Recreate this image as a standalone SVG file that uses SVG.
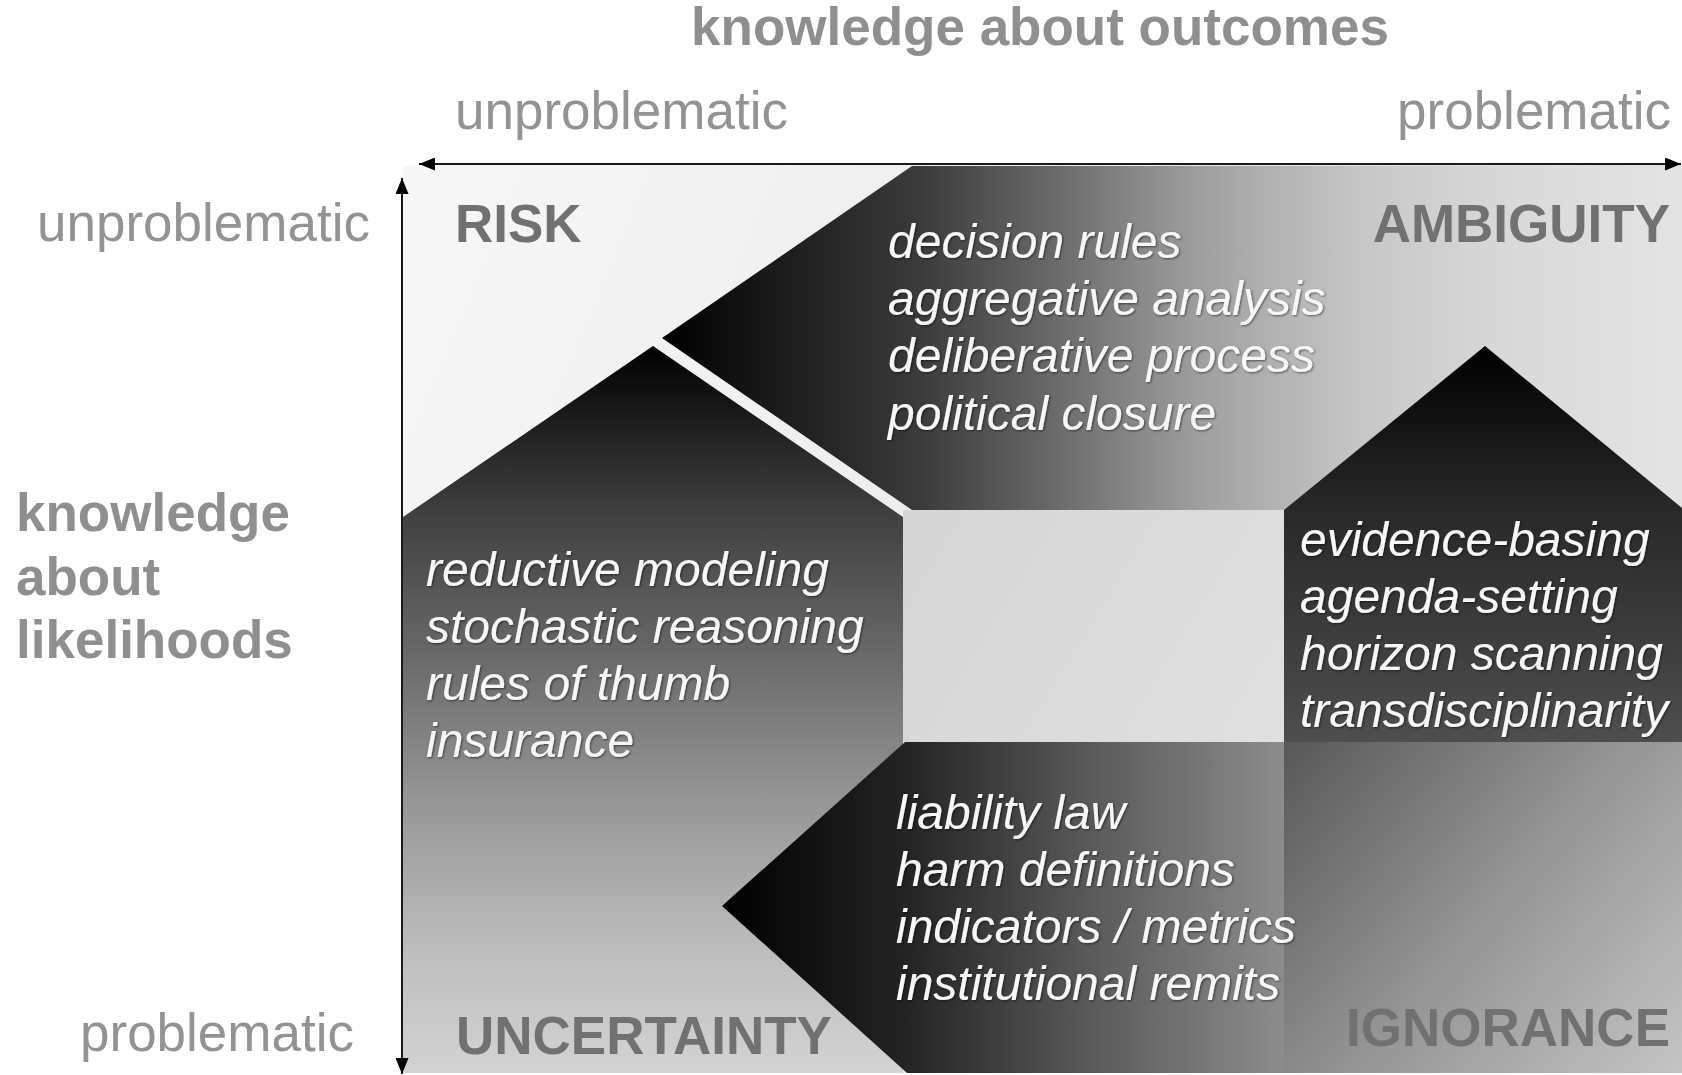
<svg xmlns="http://www.w3.org/2000/svg" width="1682" height="1075" viewBox="0 0 1682 1075">
  <defs>
    <style>
      .axis { font-family: "Liberation Sans", Arial, sans-serif; font-size: 53px; fill: #939393; }
      .axisb { font-family: "Liberation Sans", Arial, sans-serif; font-size: 53px; font-weight: bold; fill: #8f8f8f; }
      .quad { font-family: "Liberation Sans", Arial, sans-serif; font-size: 53px; font-weight: bold; fill: #717171; }
      .item { font-family: "Liberation Sans", Arial, sans-serif; font-size: 48px; font-style: italic; fill: #f7f7f7; filter: url(#shadow); }
      .axisline { stroke: #1a1a1a; stroke-width: 2; fill: none; }
    </style>
    <filter id="shadow" x="-5%" y="-20%" width="110%" height="140%">
      <feDropShadow dx="1" dy="1" stdDeviation="0.8" flood-color="#000" flood-opacity="0.55"/>
    </filter>
    <marker id="ah" viewBox="0 0 16 13" markerUnits="userSpaceOnUse" markerWidth="16" markerHeight="13" refX="16" refY="6.5" orient="auto-start-reverse">
      <path d="M0,0 L16,6.5 L0,13 z" fill="#000"/>
    </marker>
    <linearGradient id="gBg" x1="403" y1="165" x2="1682" y2="700" gradientUnits="userSpaceOnUse">
      <stop offset="0" stop-color="#f7f7f7"/>
      <stop offset="0.45" stop-color="#ededed"/>
      <stop offset="1" stop-color="#d8d8d8"/>
    </linearGradient>
    <linearGradient id="gTop" x1="662" y1="0" x2="1682" y2="0" gradientUnits="userSpaceOnUse">
      <stop offset="0" stop-color="#000"/>
      <stop offset="0.25" stop-color="#3a3a3a"/>
      <stop offset="0.38" stop-color="#686868"/>
      <stop offset="0.53" stop-color="#a0a0a0"/>
      <stop offset="0.68" stop-color="#c6c6c6"/>
      <stop offset="0.82" stop-color="#d8d8d8"/>
      <stop offset="1" stop-color="#e4e4e4"/>
    </linearGradient>
    <linearGradient id="gLeft" x1="0" y1="346" x2="0" y2="1073" gradientUnits="userSpaceOnUse">
      <stop offset="0" stop-color="#000"/>
      <stop offset="0.235" stop-color="#414141"/>
      <stop offset="0.42" stop-color="#686868"/>
      <stop offset="0.62" stop-color="#959595"/>
      <stop offset="0.83" stop-color="#bdbdbd"/>
      <stop offset="1" stop-color="#d3d3d3"/>
    </linearGradient>
    <linearGradient id="gRight" x1="0" y1="346" x2="0" y2="742" gradientUnits="userSpaceOnUse">
      <stop offset="0" stop-color="#000"/>
      <stop offset="0.41" stop-color="#282828"/>
      <stop offset="1" stop-color="#4e4e4e"/>
    </linearGradient>
    <linearGradient id="gIgn" x1="1284" y1="742" x2="1682" y2="1073" gradientUnits="userSpaceOnUse">
      <stop offset="0" stop-color="#585858"/>
      <stop offset="0.5" stop-color="#949494"/>
      <stop offset="1" stop-color="#c4c4c4"/>
    </linearGradient>
    <linearGradient id="gBottom" x1="722" y1="0" x2="1284" y2="0" gradientUnits="userSpaceOnUse">
      <stop offset="0" stop-color="#000"/>
      <stop offset="0.33" stop-color="#242424"/>
      <stop offset="0.67" stop-color="#5c5c5c"/>
      <stop offset="1" stop-color="#8c8c8c"/>
    </linearGradient>
    <linearGradient id="gSq" x1="903" y1="510" x2="1284" y2="742" gradientUnits="userSpaceOnUse">
      <stop offset="0" stop-color="#d6d6d6"/>
      <stop offset="1" stop-color="#e0e0e0"/>
    </linearGradient>
  </defs>

  <rect width="1682" height="1075" fill="#fff"/>

  <g id="panel">
    <rect x="403" y="165" width="1279" height="908" fill="url(#gBg)"/>
  </g>

  <g id="arrow-top">
    <polygon points="662,338 912,166 1682,166 1682,510 912,510" fill="url(#gTop)"/>
    <text class="item" x="888" y="258">decision rules</text>
    <text class="item" x="888" y="315">aggregative analysis</text>
    <text class="item" x="888" y="372">deliberative process</text>
    <text class="item" x="888" y="430">political closure</text>
  </g>

  <g id="arrow-left">
    <polygon points="653,346 903,517 903,1073 403,1073 403,517" fill="url(#gLeft)"/>
    <text class="item" x="426" y="586">reductive modeling</text>
    <text class="item" x="426" y="643">stochastic reasoning</text>
    <text class="item" x="426" y="700">rules of thumb</text>
    <text class="item" x="426" y="757">insurance</text>
  </g>

  <g id="center">
    <rect x="903" y="510" width="381" height="232" fill="url(#gSq)"/>
  </g>

  <g id="arrow-right">
    <polygon points="1485,346 1682,508 1682,1073 1284,1073 1284,510" fill="url(#gRight)"/>
    <rect x="1284" y="742" width="398" height="331" fill="url(#gIgn)"/>
    <text class="item" x="1300" y="556">evidence-basing</text>
    <text class="item" x="1300" y="613">agenda-setting</text>
    <text class="item" x="1300" y="670">horizon scanning</text>
    <text class="item" x="1300" y="727">transdisciplinarity</text>
  </g>

  <g id="arrow-bottom">
    <polygon points="722,906 905,742 1284,742 1284,1073 907,1073" fill="url(#gBottom)"/>
    <text class="item" x="896" y="829">liability law</text>
    <text class="item" x="896" y="886">harm definitions</text>
    <text class="item" x="896" y="943">indicators / metrics</text>
    <text class="item" x="896" y="1000">institutional remits</text>
  </g>

  <g id="risk"><text class="quad" x="455" y="242">RISK</text></g>
  <g id="ambiguity"><text class="quad" x="1670" y="242" text-anchor="end">AMBIGUITY</text></g>
  <g id="uncertainty"><text class="quad" x="456" y="1054">UNCERTAINTY</text></g>
  <g id="ignorance"><text class="quad" x="1670" y="1046" text-anchor="end">IGNORANCE</text></g>

  <g id="axis-outcomes">
    <text class="axisb" x="1040" y="45" text-anchor="middle" font-size="54">knowledge about outcomes</text>
    <text class="axis" x="455" y="129">unproblematic</text>
    <text class="axis" x="1671" y="129" text-anchor="end">problematic</text>
  </g>

  <g id="axis-likelihoods">
    <text class="axisb" x="16" y="531">knowledge</text>
    <text class="axisb" x="16" y="595">about</text>
    <text class="axisb" x="16" y="658">likelihoods</text>
    <text class="axis" x="37" y="241">unproblematic</text>
    <text class="axis" x="80" y="1051">problematic</text>
  </g>

  <g id="connectors">
    <line class="axisline" x1="419" y1="164" x2="1681" y2="164" marker-start="url(#ah)" marker-end="url(#ah)"/>
    <line class="axisline" x1="402" y1="178" x2="402" y2="1074" marker-start="url(#ah)" marker-end="url(#ah)"/>
  </g>
</svg>
